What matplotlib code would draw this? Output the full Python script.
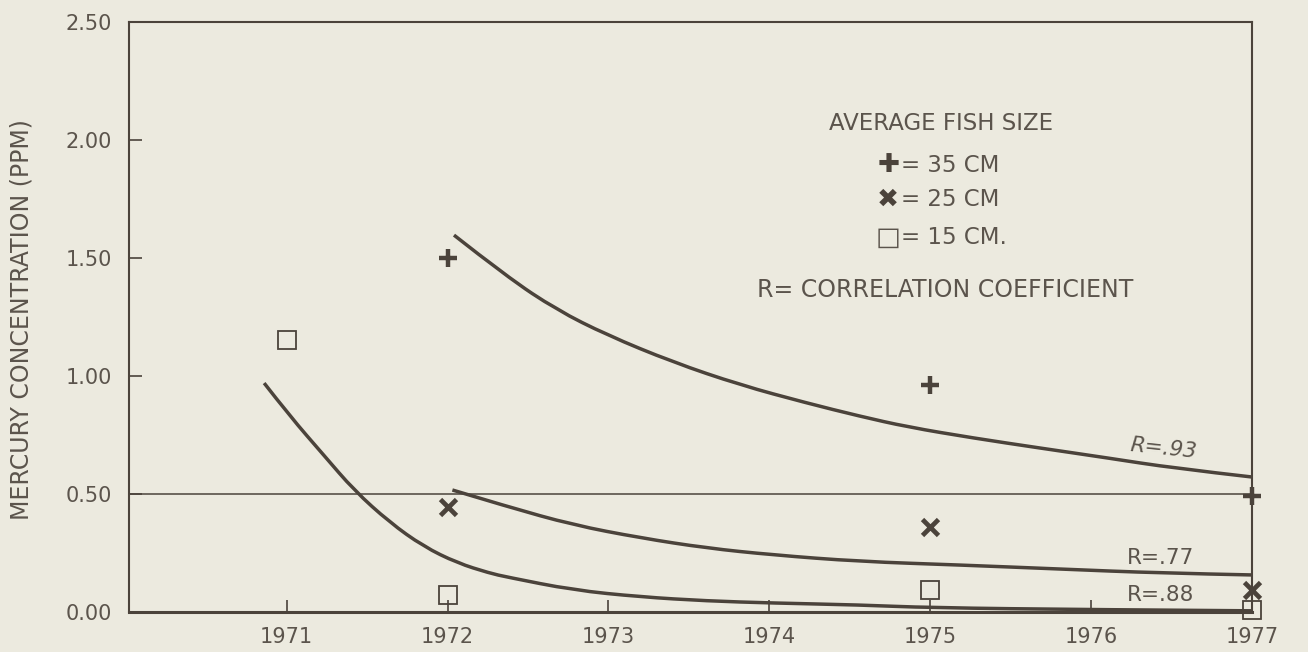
import matplotlib
matplotlib.use("Agg")
import matplotlib.pyplot as plt
from matplotlib.path import Path
from matplotlib.patches import PathPatch

# ---- data ----
years_35 = [1972, 1975, 1977]
hg_35 = [1.50, 0.96, 0.49]
years_25 = [1972, 1975, 1977]
hg_25 = [0.445, 0.36, 0.093]
years_15 = [1971, 1972, 1975, 1977]
hg_15 = [1.153, 0.072, 0.093, 0.01]

fit35_x = [1972.04, 1972.37, 1972.68, 1972.99, 1973.40, 1973.82, 1974.23, 1974.56,
           1974.86, 1975.27, 1975.68, 1976.10, 1976.51, 1977.0]
fit35_y = [1.597, 1.42, 1.28, 1.174, 1.059, 0.962, 0.886, 0.83,
           0.784, 0.737, 0.695, 0.653, 0.61, 0.572]
fit25_x = [1972.03, 1972.37, 1972.78, 1973.20, 1973.61, 1974.02, 1974.56, 1975.19,
           1975.81, 1976.43, 1977.0]
fit25_y = [0.517, 0.447, 0.369, 0.314, 0.271, 0.242, 0.214, 0.199,
           0.182, 0.165, 0.157]
fit15_x = [1970.86, 1971.02, 1971.23, 1971.42, 1971.64, 1971.85, 1972.06, 1972.26,
           1972.37, 1972.78, 1973.20, 1973.61, 1974.02, 1974.56, 1975.0, 1976.0, 1977.0]
fit15_y = [0.970, 0.830, 0.665, 0.515, 0.380, 0.278, 0.208, 0.165,
           0.148, 0.093, 0.064, 0.047, 0.038, 0.030, 0.018, 0.010, 0.005]

x_ticks = [1971, 1972, 1973, 1974, 1975, 1976, 1977]
y_ticks = [0.0, 0.5, 1.0, 1.5, 2.0, 2.5]
y_ticklabels = ["0.00", "0.50", "1.00", "1.50", "2.00", "2.50"]
r_labels = ["R=.93", "R=.77", "R=.88"]

# ---- style ----
BG = "#eceadf"
INK = "#4b433b"
TXT = "#5b544c"

plt.rcParams['font.family'] = ['DejaVu Sans']

fig = plt.figure(figsize=(13.08, 6.52), dpi=100, facecolor=BG)
ax = fig.add_axes([129/1308, 40/652, (1252-129)/1308, (612-22)/652])
ax.set_facecolor(BG)

ax.set_xlim(1970.02, 1977.0)
ax.set_ylim(0, 2.5)

# reference line at 0.50
ax.axhline(0.5, color=INK, lw=1.1, zorder=1)


def smooth_path(xs, ys):
    """Quadratic-Bezier path using the read points as control vertices."""
    pts = list(zip(xs, ys))
    verts = [pts[0]]
    codes = [Path.MOVETO]
    for i in range(1, len(pts) - 1):
        mid = ((pts[i][0] + pts[i + 1][0]) / 2, (pts[i][1] + pts[i + 1][1]) / 2)
        if i == len(pts) - 2:
            mid = pts[i + 1]
        verts += [pts[i], mid]
        codes += [Path.CURVE3, Path.CURVE3]
    return Path(verts, codes)


# fitted curves
for fx, fy in [(fit35_x, fit35_y), (fit25_x, fit25_y), (fit15_x, fit15_y)]:
    ax.add_patch(PathPatch(smooth_path(fx, fy), fill=False, edgecolor=INK,
                           lw=2.5, capstyle='butt', zorder=3))

# data points
ax.plot(years_35, hg_35, ls='none', marker='+', ms=13, mew=3.2, color=INK,
        clip_on=False, zorder=4)
ax.plot(years_25, hg_25, ls='none', marker='x', ms=11, mew=3.4, color=INK,
        clip_on=False, zorder=4)
ax.plot(years_15, hg_15, ls='none', marker='s', ms=12.5, mew=1.3, mfc='none',
        mec=INK, clip_on=False, zorder=4)

# axes styling
for s in ax.spines.values():
    s.set_color(INK)
    s.set_linewidth(1.5)
ax.spines['bottom'].set_linewidth(2.2)

ax.set_xticks(x_ticks)
ax.set_xticklabels([str(y) for y in x_ticks])
ax.set_yticks(y_ticks)
ax.set_yticklabels(y_ticklabels)
ax.tick_params(axis='both', direction='in', length=9, width=1.2, color=INK,
               labelcolor=TXT, labelsize=15)
ax.tick_params(axis='x', pad=11)
ax.tick_params(axis='y', pad=12)

fig.text(22/1308, 1 - 320/652, "MERCURY CONCENTRATION (PPM)", fontsize=17,
         color=TXT, rotation=90, ha='center', va='center')

# legend text
ax.text(1975.07, 2.068, "AVERAGE FISH SIZE", fontsize=16.5, color=TXT,
        ha='center', va='center')
ax.text(1974.67, 1.894, "\u271a", fontsize=19, color=INK, ha='left', va='center')
ax.text(1974.82, 1.894, "= 35 CM", fontsize=16.5, color=TXT, ha='left', va='center')
ax.text(1974.67, 1.746, "\u2716", fontsize=19, color=INK, ha='left', va='center')
ax.text(1974.82, 1.746, "= 25 CM", fontsize=16.5, color=TXT, ha='left', va='center')
ax.text(1974.66, 1.585, "\u25a1", fontsize=19, color=TXT, ha='left', va='center')
ax.text(1974.82, 1.585, "= 15 CM.", fontsize=16.5, color=TXT, ha='left', va='center')
ax.text(1975.09, 1.364, "R= CORRELATION COEFFICIENT", fontsize=17, color=TXT,
        ha='center', va='center')

# correlation labels
ax.text(1976.45, 0.691, r_labels[0], fontsize=15.5, color=TXT, ha='center',
        va='center', rotation=-6, style='italic')
ax.text(1976.43, 0.229, r_labels[1], fontsize=15.5, color=TXT, ha='center', va='center')
ax.text(1976.43, 0.072, r_labels[2], fontsize=15.5, color=TXT, ha='center', va='center')

fig.savefig("out.png", dpi=100, facecolor=BG)
